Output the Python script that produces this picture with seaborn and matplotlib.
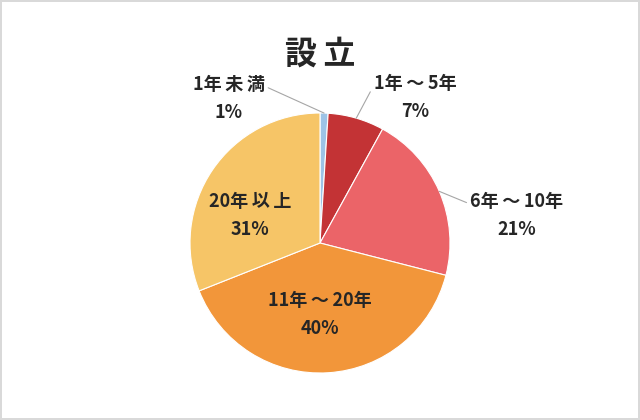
import numpy as np
import matplotlib
matplotlib.use("Agg")
import matplotlib.pyplot as plt
import seaborn as sns

# data
categories = ["1年未満", "1年～5年", "6年～10年", "11年～20年", "20年以上"]
shares = [1, 7, 21, 40, 31]
colors_hex = ["#9DC3E6", "#C33335", "#EB6468", "#F2963A", "#F6C567"]
title = "設立"

sns.set_theme(style="white")
plt.rcParams["font.family"] = ["Noto Sans CJK JP", "DejaVu Sans"]


def spaced(s):
    # the original labels are set with loose spacing between wide glyphs
    out = s[0]
    for a, b in zip(s, s[1:]):
        wide_pair = ord(a) > 0x2000 and ord(b) > 0x2000
        if wide_pair or "～" in (a, b):
            out += "\u2009"
        out += b
    return out


fig = plt.figure(figsize=(6.4, 4.2), dpi=100)
fig.patch.set_facecolor("white")
fig.patch.set_edgecolor("#D9D9D9")
fig.patch.set_linewidth(1.5)

ax = fig.add_axes([0, 0, 1, 1])
R = 130.0

palette = sns.color_palette(colors_hex)
wedges, _ = ax.pie(shares, colors=palette, startangle=90, counterclock=False,
                   radius=1.0, wedgeprops=dict(edgecolor="white", linewidth=0.8))

# pie resets the limits, so fix them afterwards
ax.set_xlim(-320 / R, 320 / R)
ax.set_ylim(-177 / R, 243 / R)
ax.set_aspect("equal")
ax.axis("off")

ax.text(0, 188 / R, spaced(title), ha="center", va="center", fontsize=23, fontweight="bold")

# label placement: (x, y) in radius units; inside labels have no leader
label_pos = {
    0: (-0.70, 1.115, True),
    1: (0.73, 1.12, True),
    2: (1.51, 0.21, True),
    3: (0.0, -0.55, False),
    4: (-0.54, 0.215, False),
}
for i, w in enumerate(wedges):
    mid = np.deg2rad((w.theta1 + w.theta2) / 2)
    lx, ly, outside = label_pos[i]
    txt = f"{spaced(categories[i])}\n{shares[i]}%"
    if outside:
        ex, ey = np.cos(mid) * 1.0, np.sin(mid) * 1.0
        ax.annotate(txt, xy=(ex, ey), xytext=(lx, ly), ha="center", va="center",
                    fontsize=13, fontweight="bold", linespacing=1.6,
                    arrowprops=dict(arrowstyle="-", color="#A6A6A6", lw=0.8,
                                    shrinkA=0, shrinkB=0,
                                    relpos=(1, 0.75) if i == 0 else (0, 0.75)))
    else:
        ax.text(lx, ly, txt, ha="center", va="center", fontsize=13,
                fontweight="bold", linespacing=1.6)

fig.savefig("out.png", dpi=100, facecolor=fig.get_facecolor(), edgecolor=fig.get_edgecolor())
